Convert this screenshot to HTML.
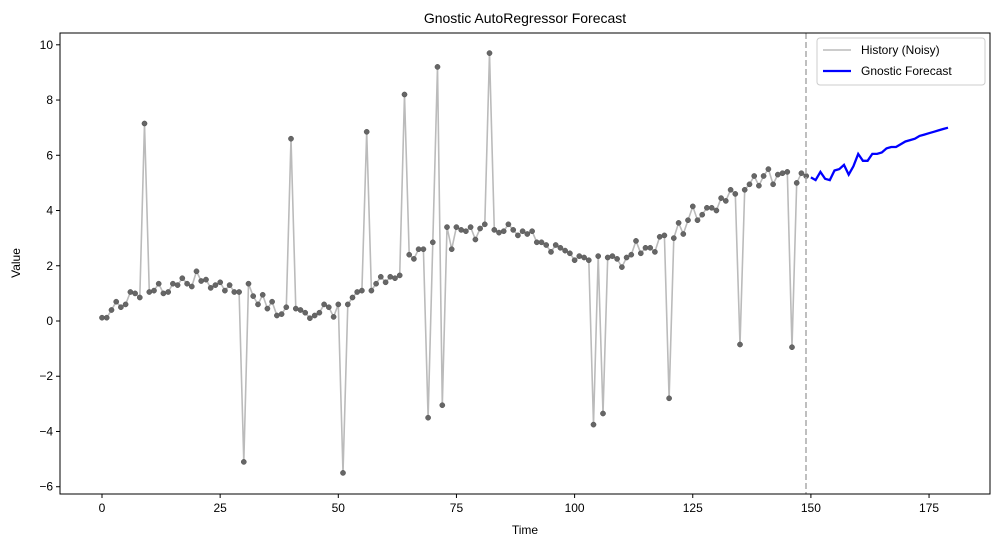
<!DOCTYPE html>
<html><head><meta charset="utf-8"><style>
body{margin:0;background:#fff;}
svg{display:block;font-family:"Liberation Sans","DejaVu Sans",sans-serif;}
</style></head><body>
<svg id="s" width="999" height="547" viewBox="0 0 999 547" xmlns="http://www.w3.org/2000/svg"></svg>
<script>
const h=[0.12,0.12,0.4,0.7,0.5,0.6,1.05,1.0,0.85,7.15,1.05,1.1,1.35,1.0,1.05,1.35,1.3,1.55,1.35,1.25,1.8,1.45,1.5,1.2,1.3,1.4,1.1,1.3,1.05,1.05,-5.1,1.35,0.9,0.6,0.95,0.45,0.7,0.2,0.25,0.5,6.6,0.45,0.4,0.3,0.1,0.2,0.3,0.6,0.5,0.15,0.6,-5.5,0.6,0.85,1.05,1.1,6.85,1.1,1.35,1.6,1.4,1.6,1.55,1.65,8.2,2.4,2.25,2.6,2.6,-3.5,2.85,9.2,-3.05,3.4,2.6,3.4,3.3,3.25,3.4,2.95,3.35,3.5,9.7,3.3,3.2,3.25,3.5,3.3,3.1,3.25,3.15,3.25,2.85,2.85,2.75,2.5,2.75,2.65,2.55,2.45,2.2,2.35,2.3,2.2,-3.75,2.35,-3.35,2.3,2.35,2.25,1.95,2.3,2.4,2.9,2.45,2.65,2.65,2.5,3.05,3.1,-2.8,3.0,3.55,3.15,3.65,4.15,3.65,3.85,4.1,4.1,4.0,4.45,4.35,4.75,4.6,-0.85,4.75,4.95,5.25,4.9,5.25,5.5,4.95,5.3,5.35,5.4,-0.95,5.0,5.35,5.25];
const f=[5.2,5.1,5.4,5.15,5.1,5.45,5.5,5.65,5.3,5.6,6.05,5.8,5.8,6.05,6.05,6.1,6.25,6.3,6.3,6.4,6.5,6.55,6.6,6.7,6.75,6.8,6.85,6.9,6.95,7.0];
const X=i=>102+4.726*i, Y=v=>321-27.62*v;
let s='';
const L=60,R=990,T=33,B=494;
s+=`<text x="525" y="23" font-size="14" text-anchor="middle">Gnostic AutoRegressor Forecast</text>`;
s+=`<polyline fill="none" stroke="#bbb" stroke-width="1.6" points="${h.map((v,i)=>X(i).toFixed(1)+','+Y(v).toFixed(1)).join(' ')}"/>`;
h.forEach((v,i)=>{s+=`<circle cx="${X(i).toFixed(1)}" cy="${Y(v).toFixed(1)}" r="2.6" fill="#666" stroke="#555" stroke-width="0.5"/>`;});
s+=`<polyline fill="none" stroke="#0000ff" stroke-width="2.3" points="${f.map((v,i)=>X(150+i).toFixed(1)+','+Y(v).toFixed(1)).join(' ')}"/>`;
s+=`<line x1="806" y1="${T}" x2="806" y2="${B}" stroke="#aaa" stroke-width="1.5" stroke-dasharray="6,3"/>`;
s+=`<rect x="${L}" y="${T}" width="${R-L}" height="${B-T}" fill="none" stroke="#000" stroke-width="1"/>`;
for(let t=0;t<=175;t+=25){const x=X(t);s+=`<line x1="${x}" y1="${B}" x2="${x}" y2="${B+4}" stroke="#000"/><text x="${x}" y="${B+18}" font-size="12" text-anchor="middle">${t}</text>`;}
for(let v=-6;v<=10;v+=2){const y=Y(v);s+=`<line x1="${L-4}" y1="${y}" x2="${L}" y2="${y}" stroke="#000"/><text x="${L-7}" y="${y+4}" font-size="12" text-anchor="end">${v<0?'\u2212'+(-v):v}</text>`;}
s+=`<text x="525" y="534" font-size="12" text-anchor="middle">Time</text>`;
s+=`<text x="20" y="263" font-size="12" text-anchor="middle" transform="rotate(-90 20 263)">Value</text>`;
s+=`<rect x="817" y="38" width="168" height="47" rx="3" fill="#fff" stroke="#ccc"/>`;
s+=`<line x1="823" y1="50" x2="851" y2="50" stroke="#bbb" stroke-width="1.6"/><text x="861" y="54" font-size="12">History (Noisy)</text>`;
s+=`<line x1="823" y1="71" x2="851" y2="71" stroke="#0000ff" stroke-width="2.3"/><text x="861" y="75" font-size="12">Gnostic Forecast</text>`;
document.getElementById('s').innerHTML=s;
</script>
</body></html>
